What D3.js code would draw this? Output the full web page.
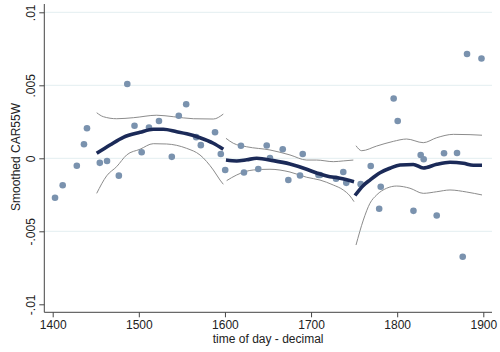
<!DOCTYPE html>
<html>
<head>
<meta charset="utf-8">
<script src="https://cdn.jsdelivr.net/npm/d3@7/dist/d3.min.js"></script>
<style>
  html, body { margin: 0; padding: 0; background: #fff; }
  svg { display: block; font-family: "Liberation Sans", Arial, sans-serif; }
</style>
</head>
<body>
<svg id="chart" width="500" height="352"></svg>
<script>
// Observed CAR55W by time of day (decimal HHMM)
const obsTime = [1402.7, 1411.6, 1428.0, 1436.3, 1439.8, 1454.7, 1463.1, 1476.8, 1486.6, 1495.0,
  1503.3, 1511.8, 1523.4, 1538.3, 1546.4, 1555.0, 1566.6, 1572.0, 1588.5, 1595.2,
  1600.3, 1618.6, 1622.1, 1638.7, 1648.5, 1652.3, 1667.1, 1673.6, 1687.2, 1690.3,
  1708.6, 1710.4, 1729.0, 1737.4, 1740.9, 1757.6, 1769.3, 1780.9, 1779.1, 1795.9,
  1800.6, 1818.9, 1827.3, 1830.8, 1845.9, 1854.4, 1869.5, 1876.1, 1881.1, 1897.9];
const obsValue = [-0.0027, -0.00185, -0.00051, 0.00096, 0.00206, -0.00031, -0.00018, -0.00119, 0.00509, 0.00223,
  0.00041, 0.00211, 0.00255, 0.00010, 0.00291, 0.00370, 0.00145, 0.00090, 0.00178, 0.00029,
  -0.00080, 0.00086, -0.00097, -0.00073, 0.00088, 0.00002, 0.00062, -0.00149, -0.00118, 0.00029,
  -0.00114, -0.00114, -0.00140, -0.00094, -0.00168, -0.00177, -0.00053, -0.00195, -0.00346, 0.00410,
  0.00255, -0.00360, 0.00023, -0.00007, -0.00392, 0.00035, 0.00036, -0.00674, 0.00714, 0.00684];

// Smoothed fit and confidence bounds, one block per session window
const seg1Time  = [1451.1, 1466.5, 1482.0, 1501.4, 1516.8, 1528.4, 1544.0, 1555.6, 1571.0, 1586.5, 1598.1];
const seg1Fit   = [0.00034, 0.00091, 0.00144, 0.00178, 0.00199, 0.00199, 0.00182, 0.00168, 0.00141, 0.00103, 0.00062];
const seg1UpT   = [1451.1, 1458.8, 1474.3, 1493.6, 1520.8, 1540.0, 1563.3, 1586.5, 1598.1];
const seg1Up    = [0.00312, 0.00285, 0.00271, 0.00278, 0.00295, 0.00285, 0.00271, 0.00269, 0.00303];
const seg1LoT   = [1451.1, 1462.7, 1474.3, 1485.9, 1501.4, 1516.8, 1532.4, 1555.6, 1571.0, 1586.5, 1594.3, 1598.1];
const seg1Lo    = [-0.00240, -0.00120, -0.00057, 0.00023, 0.00062, 0.00100, 0.00098, 0.00068, 0.00023, -0.00080, -0.00149, -0.00178];

const seg2Time  = [1601.2, 1613.7, 1625.3, 1636.9, 1656.2, 1675.5, 1694.9, 1702.6, 1718.2, 1733.6, 1749.9];
const seg2Fit   = [-0.00012, -0.00018, -0.00010, 0.00000, -0.00016, -0.00039, -0.00075, -0.00092, -0.00121, -0.00137, -0.00160];
const seg2UpT   = [1601.2, 1609.7, 1625.3, 1652.3, 1675.5, 1694.9, 1706.5, 1725.8, 1737.4, 1749.1];
const seg2Up    = [0.00137, 0.00103, 0.00079, 0.00057, 0.00023, -0.00012, -0.00012, -0.00023, -0.00018, -0.00012];
const seg2LoT   = [1602.0, 1613.7, 1632.9, 1652.3, 1675.5, 1694.9, 1710.4, 1725.8, 1737.4, 1745.2, 1749.9];
const seg2Lo    = [-0.00153, -0.00114, -0.00080, -0.00075, -0.00094, -0.00130, -0.00149, -0.00183, -0.00217, -0.00258, -0.00297];

const seg3Time  = [1751.0, 1760.7, 1768.4, 1780.1, 1791.7, 1803.3, 1818.7, 1830.3, 1845.9, 1861.3, 1876.8, 1888.4, 1898.5];
const seg3Fit   = [-0.00255, -0.00186, -0.00149, -0.00099, -0.00068, -0.00046, -0.00042, -0.00066, -0.00041, -0.00027, -0.00034, -0.00048, -0.00048];
const seg3UpT   = [1752.2, 1758.8, 1776.2, 1795.5, 1811.0, 1830.3, 1845.9, 1865.2, 1884.6, 1898.5];
const seg3Up    = [0.00086, 0.00052, 0.00084, 0.00116, 0.00132, 0.00107, 0.00141, 0.00164, 0.00162, 0.00158];
const seg3LoT   = [1752.2, 1760.7, 1768.4, 1776.2, 1787.8, 1799.4, 1814.8, 1830.3, 1845.9, 1861.3, 1880.7, 1898.5];
const seg3Lo    = [-0.00594, -0.00423, -0.00308, -0.00251, -0.00205, -0.00190, -0.00205, -0.00240, -0.00229, -0.00217, -0.00231, -0.00251];

const xTicks = [1400, 1500, 1600, 1700, 1800, 1900];
const yTicks = [-0.01, -0.005, 0, 0.005, 0.01];
const yTickLabels = ["-.01", "-.005", "0", ".005", ".01"];
const xTitle = "time of day - decimal";
const yTitle = "Smoothed CAR55W";

const svg = d3.select("#chart");
const plotLeft = 44.3, plotRight = 492, plotTop = 4, plotBottom = 312.3;

const x = d3.scaleLinear().domain([1400, 1900]).range([52.7, 483.3]);
const y = d3.scaleLinear().domain([-0.01, 0.01]).range([304.3, 12.3]);

// horizontal gridlines
svg.append("g")
  .selectAll("line")
  .data(yTicks.filter(v => v !== -0.01))
  .join("line")
  .attr("x1", plotLeft).attr("x2", plotRight)
  .attr("y1", d => y(d)).attr("y2", d => y(d))
  .attr("stroke", "#e3eef0").attr("stroke-width", 1);

// confidence bounds
const zip = (ts, vs) => ts.map((t, i) => [t, vs[i]]);
const line = d3.line().x(d => x(d[0])).y(d => y(d[1])).curve(d3.curveMonotoneX);

const bounds = [
  zip(seg1UpT, seg1Up), zip(seg1LoT, seg1Lo),
  zip(seg2UpT, seg2Up), zip(seg2LoT, seg2Lo),
  zip(seg3UpT, seg3Up), zip(seg3LoT, seg3Lo)
];
svg.append("g")
  .selectAll("path")
  .data(bounds)
  .join("path")
  .attr("d", line)
  .attr("fill", "none")
  .attr("stroke", "#8c8c8c")
  .attr("stroke-width", 1);

// observations
svg.append("g")
  .selectAll("circle")
  .data(obsTime.map((t, i) => [t, obsValue[i]]))
  .join("circle")
  .attr("cx", d => x(d[0]))
  .attr("cy", d => y(d[1]))
  .attr("r", 3.3)
  .attr("fill", "#7a92ae");

// smoothed fit
const fits = [zip(seg1Time, seg1Fit), zip(seg2Time, seg2Fit), zip(seg3Time, seg3Fit)];
svg.append("g")
  .selectAll("path")
  .data(fits)
  .join("path")
  .attr("d", line)
  .attr("fill", "none")
  .attr("stroke", "#1b2a58")
  .attr("stroke-width", 3.6)
  .attr("stroke-linecap", "butt");

// axes
const yAxis = d3.axisLeft(y)
  .tickValues(yTicks)
  .tickFormat((d, i) => yTickLabels[i])
  .tickSize(5)
  .tickSizeOuter(0);
const gy = svg.append("g").attr("transform", `translate(${plotLeft},0)`).call(yAxis);
gy.select(".domain").remove();
gy.append("line")
  .attr("x1", 0).attr("x2", 0).attr("y1", plotTop).attr("y2", plotBottom)
  .attr("stroke", "#444");
gy.selectAll(".tick line").attr("stroke", "#444");
gy.selectAll(".tick text")
  .attr("font-size", 12)
  .attr("fill", "#222")
  .attr("text-anchor", "middle")
  .attr("x", 0).attr("dy", 0)
  .attr("transform", "translate(-9,0) rotate(-90)");

const xAxis = d3.axisBottom(x)
  .tickValues(xTicks)
  .tickFormat(d3.format("d"))
  .tickSize(5)
  .tickSizeOuter(0);
const gx = svg.append("g").attr("transform", `translate(0,${plotBottom})`).call(xAxis);
gx.select(".domain").remove();
gx.append("line")
  .attr("x1", plotLeft).attr("x2", plotRight).attr("y1", 0).attr("y2", 0)
  .attr("stroke", "#444");
gx.selectAll(".tick line").attr("stroke", "#444");
gx.selectAll(".tick text")
  .attr("font-size", 12)
  .attr("fill", "#222")
  .attr("y", 8);

// axis titles
svg.append("text")
  .attr("x", (plotLeft + plotRight) / 2)
  .attr("y", 343)
  .attr("text-anchor", "middle")
  .attr("font-size", 12)
  .attr("fill", "#222")
  .text(xTitle);

svg.append("text")
  .attr("transform", `translate(20,157) rotate(-90)`)
  .attr("text-anchor", "middle")
  .attr("font-size", 12)
  .attr("fill", "#222")
  .text(yTitle);
</script>
</body>
</html>
